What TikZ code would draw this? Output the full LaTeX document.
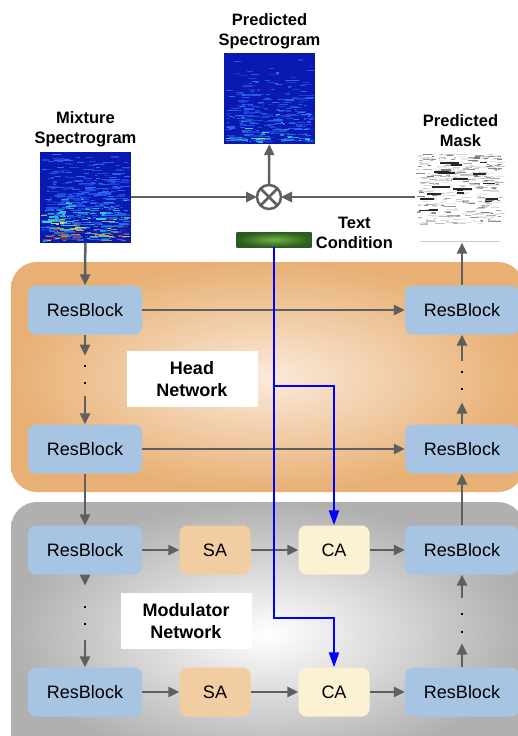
\documentclass[tikz,border=0pt]{standalone}
\usepackage{fontspec}
\setmainfont{Liberation Sans}
\usetikzlibrary{arrows.meta, positioning}

\definecolor{resblue}{HTML}{A8C4E3}
\definecolor{saorange}{HTML}{F2CDA1}
\definecolor{cayellow}{HTML}{FDF1D3}
\definecolor{arrgray}{HTML}{5F5F5F}
\definecolor{headin}{HTML}{FAEADB}
\definecolor{headout}{HTML}{E8B074}
\definecolor{modout}{HTML}{B0B0B0}
\definecolor{barin}{HTML}{6DB43F}
\definecolor{barout}{HTML}{2C5A20}
\definecolor{specbg}{HTML}{0A1AB0}
\definecolor{spec0}{HTML}{2E6BFF}
\definecolor{spec1}{HTML}{35D2E6}
\definecolor{spec2}{HTML}{E6E040}
\definecolor{spec3}{HTML}{D23A1E}

% spectrogram: x0, y0 (top), seed, streaks, bias, heat
\newcommand{\specgram}[6]{%
  \fill[specbg] (#1,#2) rectangle ++(91,91);
  \pgfmathsetseed{#3}
  \foreach \k in {1,...,#4}{
    \pgfmathsetmacro{\fy}{rnd^#5}
    \pgfmathsetmacro{\sx}{#1+1+84*rnd}
    \pgfmathsetmacro{\sl}{2+9*rnd}
    \pgfmathtruncatemacro{\op}{30+70*rnd}
    \pgfmathtruncatemacro{\ci}{min(3,floor(#6*rnd*\fy*\fy))}
    \draw[spec\ci!\op!specbg, line width=1.2pt] (\sx,#2+2+87*\fy) -- ++({min(\sl,#1+90-\sx)},0);
  }
}
% mask: x0, y0 (top), seed, streaks
\newcommand{\maskgram}[4]{%
  \fill[white] (#1,#2) rectangle ++(91,92);
  \pgfmathsetseed{#3}
  \foreach \k in {1,...,#4}{
    \pgfmathsetmacro{\sx}{#1+1+82*rnd}
    \pgfmathsetmacro{\sy}{#2+2+70*rnd^1.3}
    \pgfmathsetmacro{\sl}{2+8*rnd}
    \pgfmathtruncatemacro{\gl}{8+45*rnd^2}
    \draw[black!\gl, line width=1.1pt] (\sx,\sy) -- ++({min(\sl,#1+90-\sx)},0);
  }
  \foreach \k in {1,...,18}{
    \pgfmathsetmacro{\sx}{#1+2+70*rnd}
    \pgfmathsetmacro{\sy}{#2+8+55*rnd}
    \draw[black!85, line width=1.8pt] (\sx,\sy) -- ++({6+14*rnd},0);
  }
  \draw[black!20, line width=1pt] (#1+5,#2+89) -- ++(80,0);
}

\begin{document}
\begin{tikzpicture}[x=1pt, y=-1pt,
    block/.style={fill=resblue, rounded corners=8pt, minimum width=114pt, minimum height=49pt, font=\fontsize{18}{20}\selectfont},
    attn/.style={rounded corners=8pt, minimum width=71pt, minimum height=49pt, font=\fontsize{18}{20}\selectfont},
    title/.style={align=center, inner sep=1pt, font=\fontsize{16.5}{20}\selectfont\bfseries},
    netlabel/.style={fill=white, minimum width=131pt, minimum height=56pt, align=center, font=\fontsize{18}{22}\selectfont\bfseries},
    imgbox/.style={minimum size=91pt, inner sep=0pt},
    dotmark/.style={fill=black, minimum size=2.6pt, inner sep=0pt},
    arr/.style={draw=arrgray, line width=2.5pt, -{Triangle[length=11pt,width=10pt]}},
    cond/.style={draw=blue, line width=2.3pt, -{Triangle[length=15pt,width=10pt]}}
  ]
  \useasboundingbox (0,0) rectangle (518,736);

  % network panels
  \shade[rounded corners=26pt, inner color=headin, outer color=headout] (11,262) rectangle (524,492);
  \shade[rounded corners=26pt, inner color=white, outer color=modout] (11,502) rectangle (524,766);

  % spectrograms
  \specgram{40}{152}{7}{520}{0.6}{4.4}
  \specgram{224}{53}{11}{300}{0.4}{2.3}
  \maskgram{415}{152}{5}{420}
  \node[imgbox] (mix) at (85.5,197) {};
  \node[imgbox] (pred) at (269.5,98.5) {};
  \node[imgbox] (mask) at (460.5,197) {};
  \node[title, above=3pt of mix] (mixlbl) {Mixture\\Spectrogram};
  \node[title, above=3pt of pred] (predlbl) {Predicted\\Spectrogram};
  \node[title, above=3pt of mask] (masklbl) {Predicted\\Mask};

  \node[circle, draw=arrgray, line width=2.5pt, minimum size=24pt, inner sep=0pt, outer sep=0pt] (mul) at (269,197) {};
  \draw[arrgray, line width=2.5pt] (mul.north west) -- (mul.south east) (mul.north east) -- (mul.south west);

  \node[minimum width=75pt, minimum height=15pt, inner sep=0pt, inner color=barin, outer color=barout] (bar) at (274,239.5) {};
  \node[title, right=3pt of bar, yshift=7pt] (condlbl) {Text\\Condition};

  % head network
  \node[block] (rb1) at (85,310) {ResBlock};
  \node[block] (rb2) at (85,449) {ResBlock};
  \node[block] (rr1) at (462,310) {ResBlock};
  \node[block] (rr2) at (462,449) {ResBlock};
  \node[netlabel] (headlbl) at (192,379) {Head\\Network};

  % modulator network
  \node[block] (rb3) at (85,550) {ResBlock};
  \node[block] (rb4) at (85,692) {ResBlock};
  \node[attn, fill=saorange] (sa1) at (215,550) {SA};
  \node[attn, fill=saorange] (sa2) at (215,692) {SA};
  \node[attn, fill=cayellow] (ca1) at (334,550) {CA};
  \node[attn, fill=cayellow] (ca2) at (334,692) {CA};
  \node[block] (rr3) at (462,550) {ResBlock};
  \node[block] (rr4) at (462,692) {ResBlock};
  \node[netlabel] (modlbl) at (186,621) {Modulator\\Network};

  % elided blocks
  \node[dotmark] (dl1) at (85,366) {};
  \node[dotmark] (dl2) at (85,383) {};
  \node[dotmark] (dr1) at (462,372) {};
  \node[dotmark] (dr2) at (462,389) {};
  \node[dotmark] (dl3) at (85,607) {};
  \node[dotmark] (dl4) at (85,624) {};
  \node[dotmark] (dr3) at (462,614) {};
  \node[dotmark] (dr4) at (462,632) {};

  \draw[arr] (mix) -- (mul);
  \draw[arr] (mask) -- (mul);
  \draw[arr] (mul) -- (pred);
  \draw[arr] (mix) -- (rb1);
  \draw[arr] (rr1.north) -- (rr1.north |- mask.south);

  \draw[arr] (rb1) -- (rr1);
  \draw[arr] (rb2) -- (rr2);
  \draw[arr, shorten >=9pt] (rb1) -- (dl1);
  \draw[arr, shorten <=11pt] (dl2) -- (rb2);
  \draw[arr, shorten >=12pt] (rr2) -- (dr2);
  \draw[arr, shorten <=10pt] (dr1) -- (rr1);
  \draw[arr] (rb2) -- (rb3);
  \draw[arr] (rr3) -- (rr2);

  \draw[arr] (rb3) -- (sa1);
  \draw[arr] (sa1) -- (ca1);
  \draw[arr] (ca1) -- (rr3);
  \draw[arr] (rb4) -- (sa2);
  \draw[arr] (sa2) -- (ca2);
  \draw[arr] (ca2) -- (rr4);
  \draw[arr, shorten >=20pt] (rb3) -- (dl3);
  \draw[arr, shorten <=14pt] (dl4) -- (rb4);
  \draw[arr, shorten >=10pt] (rr4) -- (dr4);
  \draw[arr, shorten <=15pt] (dr3) -- (rr3);

  % text condition
  \coordinate (c1) at (334,386);
  \coordinate (c2) at (334,618);
  \draw[cond] (bar.south) |- (c1) -- (ca1);
  \draw[cond] (bar.south) |- (c2) -- (ca2);
\end{tikzpicture}
\end{document}
